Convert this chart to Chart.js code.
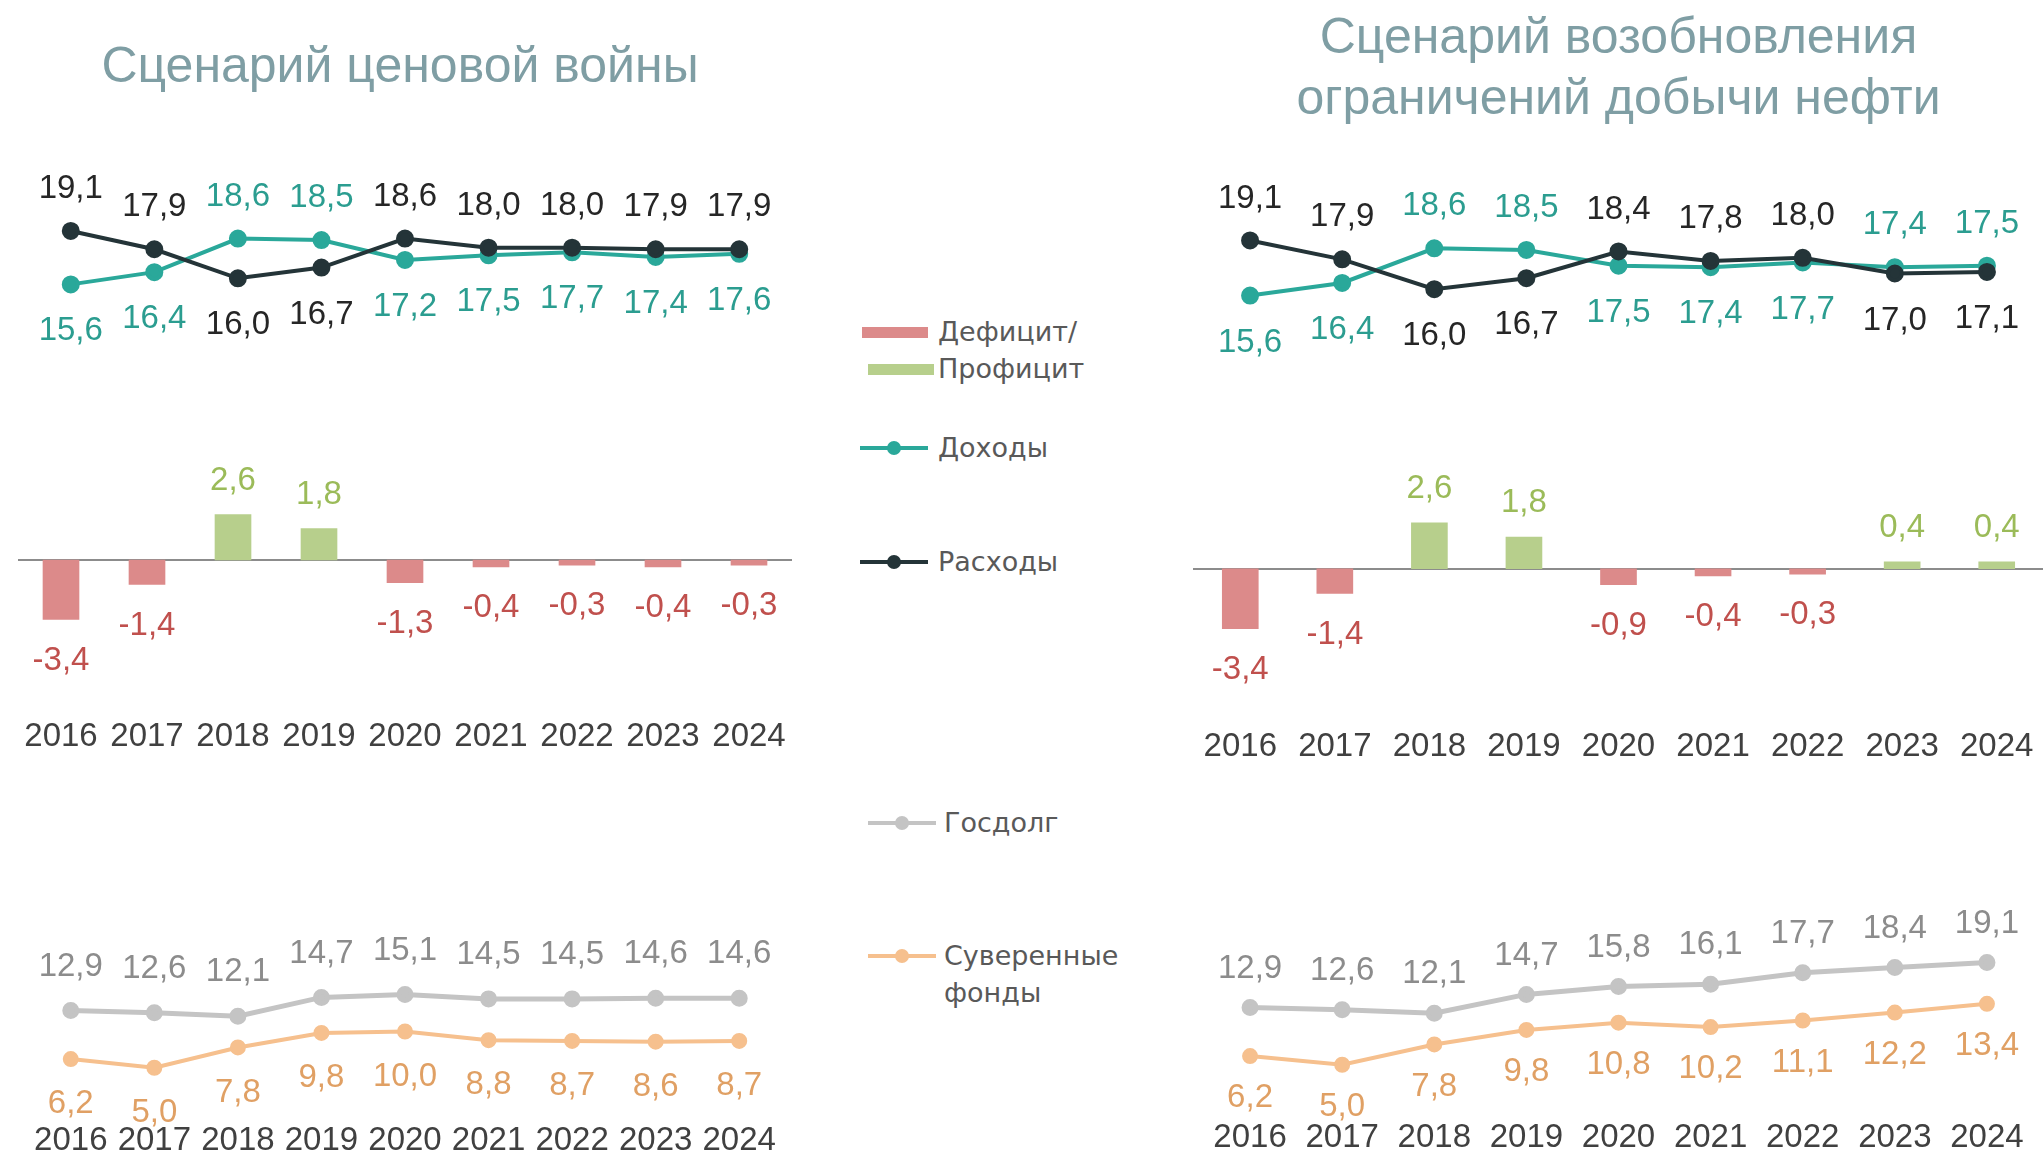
<!DOCTYPE html>
<html lang="ru">
<head>
<meta charset="utf-8">
<title>Сценарии бюджета</title>
<script src="https://cdn.jsdelivr.net/npm/chart.js"></script>
<style>
  html, body { margin: 0; padding: 0; background: #fff; overflow: hidden; }
  body { width: 2043px; height: 1155px; position: relative; font-family: "Liberation Sans", Arial, sans-serif; }
  canvas { position: absolute; }
  .title { position: absolute; color: #7f9ea4; font-size: 50px; line-height: 61px; text-align: center; white-space: nowrap; }
  .lg { position: absolute; font-family: "DejaVu Sans", sans-serif; font-size: 27px; line-height: 37px; color: #595959; white-space: nowrap; }
  .sw { position: absolute; }
  .dot { position: absolute; width: 14px; height: 14px; border-radius: 50%; }
</style>
</head>
<body>
<div class="title" style="left:0;width:800px;top:35px">Сценарий ценовой войны</div>
<div class="title" style="left:1193px;width:851px;top:6px">Сценарий возобновления<br>ограничений добычи нефти</div>

<canvas id="warTop" width="774" height="190" style="left:18px;top:168px"></canvas>
<canvas id="warBar" width="774" height="302" style="left:18px;top:455px"></canvas>
<canvas id="warBottom" width="774" height="271" style="left:18px;top:890px"></canvas>

<canvas id="oilTop" width="851" height="195" style="left:1193px;top:176px"></canvas>
<canvas id="oilBar" width="851" height="304" style="left:1193px;top:463px"></canvas>
<canvas id="oilBottom" width="851" height="271" style="left:1193px;top:887px"></canvas>

<!-- legend -->
<div class="sw" style="left:862px;top:327px;width:66px;height:11px;background:#dc8a8a"></div>
<div class="sw" style="left:868px;top:364px;width:66px;height:11px;background:#b7cf8c"></div>
<div class="lg" style="left:938px;top:313px">Дефицит/</div>
<div class="lg" style="left:938px;top:350px">Профицит</div>

<div class="sw" style="left:860px;top:446px;width:68px;height:4px;background:#2aa89a"></div>
<div class="dot" style="left:887px;top:441px;background:#2aa89a"></div>
<div class="lg" style="left:938px;top:429px">Доходы</div>

<div class="sw" style="left:860px;top:560px;width:68px;height:4px;background:#243438"></div>
<div class="dot" style="left:887px;top:555px;background:#243438"></div>
<div class="lg" style="left:938px;top:543px">Расходы</div>

<div class="sw" style="left:868px;top:821px;width:68px;height:4px;background:#c4c4c4"></div>
<div class="dot" style="left:895px;top:816px;background:#c4c4c4"></div>
<div class="lg" style="left:944px;top:804px">Госдолг</div>

<div class="sw" style="left:868px;top:954px;width:68px;height:4px;background:#f6c08e"></div>
<div class="dot" style="left:895px;top:949px;background:#f6c08e"></div>
<div class="lg" style="left:944px;top:937px">Суверенные<br>фонды</div>

<script>
const years = ['2016', '2017', '2018', '2019', '2020', '2021', '2022', '2023', '2024'];

// Сценарий ценовой войны
const warSpending = [19.1, 17.9, 16.0, 16.7, 18.6, 18.0, 18.0, 17.9, 17.9];
const warIncome   = [15.6, 16.4, 18.6, 18.5, 17.2, 17.5, 17.7, 17.4, 17.6];
const warBalance  = [-3.4, -1.4, 2.6, 1.8, -1.3, -0.4, -0.3, -0.4, -0.3];
const warDebt     = [12.9, 12.6, 12.1, 14.7, 15.1, 14.5, 14.5, 14.6, 14.6];
const warFunds    = [6.2, 5.0, 7.8, 9.8, 10.0, 8.8, 8.7, 8.6, 8.7];

// Сценарий возобновления ограничений добычи нефти
const oilSpending = [19.1, 17.9, 16.0, 16.7, 18.4, 17.8, 18.0, 17.0, 17.1];
const oilIncome   = [15.6, 16.4, 18.6, 18.5, 17.5, 17.4, 17.7, 17.4, 17.5];
const oilBalance  = [-3.4, -1.4, 2.6, 1.8, -0.9, -0.4, -0.3, 0.4, 0.4];
const oilDebt     = [12.9, 12.6, 12.1, 14.7, 15.8, 16.1, 17.7, 18.4, 19.1];
const oilFunds    = [6.2, 5.0, 7.8, 9.8, 10.8, 10.2, 11.1, 12.2, 13.4];

const C = {
    income: '#2aa89a', incomeText: '#2b9d90',
    spending: '#243438', spendingText: '#262626',
    deficit: '#dc8a8a', deficitText: '#c0504d',
    surplus: '#b7cf8c', surplusText: '#9bbb59',
    debt: '#c4c4c4', debtText: '#8c8c8c',
    funds: '#f6c08e', fundsText: '#e0a064',
    axisText: '#404040', zero: '#8c8c8c',
};

Chart.defaults.font.family = '"Liberation Sans", Arial, sans-serif';
const fmt = v => v.toFixed(1).replace('.', ',');

// подписи значений: у линий — выше/ниже соседней серии, у столбцов — по знаку
const valueLabels = {
    id: 'valueLabels',
    afterDatasetsDraw(chart, args, opts) {
        const ctx = chart.ctx;
        ctx.save();
        ctx.font = '33px "Liberation Sans", Arial, sans-serif';
        ctx.textAlign = 'center';
        ctx.textBaseline = 'middle';
        chart.data.datasets.forEach((ds, di) => {
            const meta = chart.getDatasetMeta(di);
            meta.data.forEach((el, i) => {
                const v = ds.data[i];
                let up, y;
                if (meta.type === 'bar') {
                    up = v >= 0;
                    y = up ? el.y - opts.up : el.y + opts.down;
                    ctx.fillStyle = up ? C.surplusText : C.deficitText;
                } else {
                    const other = chart.data.datasets[1 - di].data[i];
                    up = v > other || (v === other && di === 0);
                    y = up ? el.y - opts.up : el.y + opts.down;
                    ctx.fillStyle = ds.labelColor;
                }
                ctx.fillText(fmt(v), el.x, y);
            });
        });
        ctx.restore();
    }
};

const zeroLine = {
    id: 'zeroLine',
    beforeDatasetsDraw(chart) {
        const y = Math.round(chart.scales.y.getPixelForValue(0));
        const a = chart.chartArea, ctx = chart.ctx;
        ctx.save();
        ctx.strokeStyle = C.zero;
        ctx.lineWidth = 2;
        ctx.beginPath(); ctx.moveTo(a.left - 2, y); ctx.lineTo(a.right + 2, y); ctx.stroke();
        ctx.restore();
    }
};

const xTicks = { display: true, grid: { display: false, drawTicks: false }, border: { display: false },
    ticks: { color: C.axisText, font: { size: 33 }, padding: 0, maxRotation: 0, autoSkip: false } };

function lineSet(label, data, color, textColor, width, radius) {
    return { label, data, labelColor: textColor, borderColor: color, backgroundColor: color,
        pointBackgroundColor: color, pointBorderColor: color, borderWidth: width, pointRadius: radius, tension: 0 };
}

function topChart(id, spending, income, min, max) {
    return new Chart(document.getElementById(id), {
        type: 'line',
        data: { labels: years, datasets: [
            lineSet('Расходы', spending, C.spending, C.spendingText, 4, 7),
            lineSet('Доходы', income, C.income, C.incomeText, 4, 7),
        ] },
        options: {
            responsive: false, animation: false, devicePixelRatio: 1,
            layout: { padding: 0 },
            scales: { x: { display: false, offset: true }, y: { display: false, min, max } },
            plugins: { legend: { display: false }, tooltip: { enabled: false }, valueLabels: { up: 42, down: 47 } },
        },
        plugins: [valueLabels],
    });
}

function barChart(id, balance) {
    return new Chart(document.getElementById(id), {
        type: 'bar',
        data: { labels: years, datasets: [{
            label: 'Дефицит/Профицит', data: balance, barThickness: 36,
            backgroundColor: balance.map(v => v < 0 ? C.deficit : C.surplus),
        }] },
        options: {
            responsive: false, animation: false, devicePixelRatio: 1,
            layout: { padding: 0 },
            scales: { x: xTicks, y: { display: false, min: -9, max: 6 } },
            plugins: { legend: { display: false }, tooltip: { enabled: false }, valueLabels: { up: 34, down: 41 } },
        },
        plugins: [zeroLine, valueLabels],
    });
}

function bottomChart(id, debt, funds, up, down) {
    return new Chart(document.getElementById(id), {
        type: 'line',
        data: { labels: years, datasets: [
            lineSet('Госдолг', debt, C.debt, C.debtText, 5, 6),
            lineSet('Суверенные фонды', funds, C.funds, C.fundsText, 4, 6),
        ] },
        options: {
            responsive: false, animation: false, devicePixelRatio: 1,
            layout: { padding: 0 },
            scales: { x: Object.assign({ offset: true }, xTicks), y: { display: false, min: -2.4, max: 28 } },
            plugins: { legend: { display: false }, tooltip: { enabled: false }, valueLabels: { up, down } },
        },
        plugins: [valueLabels],
    });
}

topChart('warTop', warSpending, warIncome, 11.5, 22.5);
barChart('warBar', warBalance);
bottomChart('warBottom', warDebt, warFunds, 44, 45);

topChart('oilTop', oilSpending, oilIncome, 11.5, 22.5);
barChart('oilBar', oilBalance);
bottomChart('oilBottom', oilDebt, oilFunds, 39, 42);
</script>
</body>
</html>
